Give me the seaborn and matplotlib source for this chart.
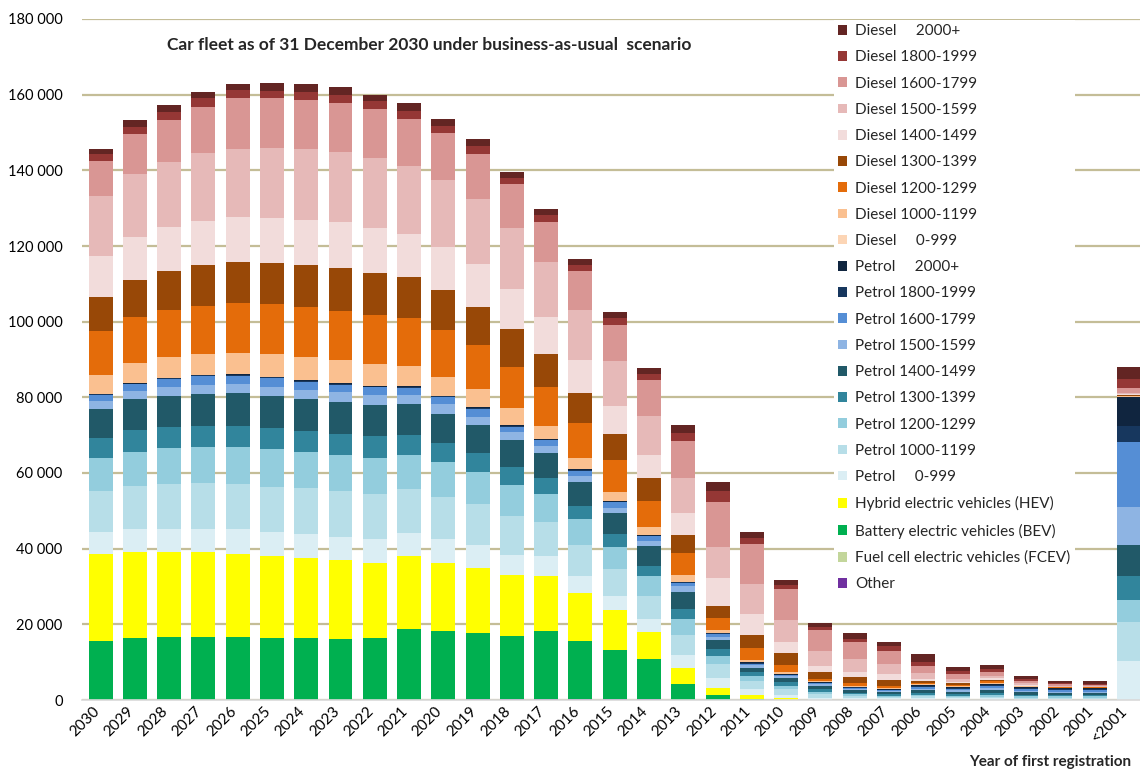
import numpy as np
import pandas as pd
import seaborn as sns
import matplotlib.pyplot as plt
from matplotlib.ticker import FuncFormatter
from matplotlib.transforms import ScaledTranslation

# Years of first registration (bars, left to right)
years = [str(y) for y in range(2030, 2000, -1)] + ["<2001"]

# Segment values per year, bottom of stack first
other = [0] * 11 + [200] * 6 + [0] * 14
fcev = [0] * 31
bev = [15700, 16460, 16660, 16660, 16660, 16460, 16460, 16070, 16460, 18820, 18330,
       17440, 16660, 18130, 15480, 12940, 10740, 4150, 1230, 350, 0,
       0, 0, 0, 0, 0, 0, 0, 0, 0, 0]
hev = [22800, 22540, 22540, 22340, 21850, 21560, 20980, 20880, 19800, 19110, 17930,
       17350, 16170, 14500, 12540, 10590, 7060, 4410, 2030, 880, 500,
       0, 0, 0, 0, 0, 0, 0, 0, 0, 0]
p0 = [5800, 6080, 6080, 6280, 6570, 6280, 6460, 6170, 6370, 6170, 6370,
      5970, 5190, 5100, 4610, 3790, 3350, 3260, 2650, 1770, 900,
      620, 530, 440, 530, 440, 440, 350, 350, 350, 10320]
p1000 = [10970, 11560, 11850, 12050, 12050, 12050, 12160, 12050, 11760, 11560, 11070,
         10780, 10290, 9110, 8130, 7230, 6180, 5380, 3700, 2030, 1500,
         880, 530, 350, 440, 350, 440, 260, 260, 260, 10410]
p1200 = [8800, 9020, 9410, 9600, 9710, 9900, 9600, 9510, 9700, 9020, 9310,
         8530, 8330, 7350, 6770, 5730, 5120, 4320, 1940, 1320, 880,
         700, 440, 350, 440, 350, 440, 350, 350, 350, 5640]
p1300 = [5100, 5680, 5490, 5590, 5480, 5680, 5490, 5680, 5590, 5390, 5000,
         5100, 4700, 4210, 3530, 3270, 2820, 2650, 1860, 1150, 880,
         620, 440, 350, 530, 440, 530, 440, 350, 350, 6440]
p1400 = [7640, 8140, 8330, 8330, 8730, 8430, 8330, 8330, 8230, 8040, 7650,
         7350, 7060, 6570, 6270, 5560, 5200, 4500, 2470, 1060, 1150,
         880, 700, 620, 700, 620, 880, 620, 530, 530, 8110]
p1500 = [2260, 2250, 2450, 2450, 2450, 2450, 2550, 2650, 2650, 2450, 2450,
         2150, 2160, 1960, 1760, 1500, 1410, 1500, 880, 610, 440,
         450, 350, 260, 350, 350, 350, 350, 350, 350, 9970]
p1600 = [1560, 1670, 1960, 2250, 2050, 2250, 2150, 1960, 2050, 1960, 2050,
         2060, 1470, 1470, 1270, 1410, 1150, 700, 620, 440, 260,
         260, 260, 260, 530, 440, 530, 440, 350, 350, 17200]
p1800 = [150, 200, 250, 250, 300, 250, 250, 250, 250, 250, 200,
         250, 250, 250, 250, 200, 200, 200, 200, 250, 200,
         150, 100, 100, 180, 180, 350, 350, 260, 260, 4410]
p2000 = [100, 100, 150, 150, 200, 150, 150, 150, 150, 150, 100,
         150, 150, 150, 150, 150, 150, 150, 150, 190, 150,
         110, 80, 80, 260, 260, 350, 350, 440, 440, 7670]
d0 = [0] * 31
d1000 = [5100, 5480, 5480, 5580, 5790, 5970, 5970, 6170, 5680, 5480, 5000,
         4800, 4500, 3530, 3040, 2480, 2030, 1770, 700, 440, 530,
         360, 260, 260, 180, 180, 180, 90, 50, 50, 150]
d1200 = [11450, 12120, 12450, 12740, 13030, 13140, 13230, 13030, 12940, 12540, 12340,
         11760, 10970, 10090, 9210, 8380, 6880, 5910, 3350, 3170, 1940,
         610, 700, 620, 440, 350, 440, 90, 50, 50, 150]
d1300 = [9030, 9700, 10400, 10680, 10780, 10870, 11080, 11270, 11270, 10780, 10690,
         10000, 9900, 8920, 7940, 6880, 6080, 4760, 3090, 3440, 3090,
         1860, 1680, 1500, 440, 530, 350, 100, 50, 50, 150]
d1400 = [10870, 11400, 11550, 11750, 12050, 11960, 12050, 12150, 11950, 11470, 11270,
         11270, 10580, 9610, 8720, 7500, 6260, 5640, 7500, 5730, 2910,
         1500, 1410, 1590, 620, 350, 530, 260, 90, 90, 200]
d1500 = [15880, 16560, 17050, 17850, 18040, 18600, 18620, 18430, 18520, 17930, 17730,
         17150, 16170, 14500, 13230, 11730, 10320, 9260, 7940, 7940, 5900,
         3970, 3260, 2650, 1410, 620, 620, 440, 260, 180, 300]
d1600 = [9320, 10740, 11300, 12250, 13270, 13000, 13170, 13150, 12730, 12580, 12450,
         11960, 11670, 10780, 10290, 9700, 9440, 9800, 11900, 10410, 8120,
         5550, 4670, 3530, 1940, 1500, 1060, 620, 440, 350, 1300]
d1800 = [1760, 1800, 2100, 2200, 2100, 2100, 2100, 2100, 2100, 2100, 1860,
         2050, 1570, 1760, 1570, 1680, 1590, 2200, 2920, 1760, 970,
         800, 800, 1320, 1150, 700, 700, 530, 350, 350, 2470]
d2000 = [1340, 1700, 1900, 1800, 1800, 2100, 2100, 1900, 1800, 2100, 1900,
         1870, 1670, 1670, 1670, 1680, 1590, 2210, 2550, 1590, 1410,
         1140, 1410, 1150, 1940, 1060, 1060, 700, 620, 530, 3000]

# Stack order (bottom to top), labels and colours
labels = ["Other", "Fuel cell electric vehicles (FCEV)", "Battery electric vehicles (BEV)",
          "Hybrid electric vehicles (HEV)",
          "Petrol     0-999", "Petrol 1000-1199", "Petrol 1200-1299", "Petrol 1300-1399",
          "Petrol 1400-1499", "Petrol 1500-1599", "Petrol 1600-1799", "Petrol 1800-1999",
          "Petrol     2000+",
          "Diesel     0-999", "Diesel 1000-1199", "Diesel 1200-1299", "Diesel 1300-1399",
          "Diesel 1400-1499", "Diesel 1500-1599", "Diesel 1600-1799", "Diesel 1800-1999",
          "Diesel     2000+"]
series = [other, fcev, bev, hev, p0, p1000, p1200, p1300, p1400, p1500, p1600, p1800,
          p2000, d0, d1000, d1200, d1300, d1400, d1500, d1600, d1800, d2000]
colors = ["#7030A0", "#C3D69B", "#00B050", "#FFFF00",
          "#DBEEF4", "#B7DEE8", "#93CDDD", "#31859C", "#215968", "#8EB4E3", "#558ED5",
          "#17375E", "#10253F",
          "#FCD5B5", "#FAC090", "#E46C0A", "#984807", "#F2DCDB", "#E6B9B8", "#D99694",
          "#953735", "#632523"]

df = pd.DataFrame(dict(zip(labels, series)), index=years)
cum = df.cumsum(axis=1)

sns.set_theme(style="white")
plt.rcParams["font.family"] = ["Lato", "DejaVu Sans"]

fig = plt.figure(figsize=(11.4, 7.72), dpi=100)
ax = fig.add_axes([82 / 1140, 72 / 772, 1 - 82 / 1140, 681 / 772])

# draw cumulative totals from the top layer down so each layer overlays the next
for name, col in zip(reversed(labels), reversed(colors)):
    sns.barplot(x=years, y=cum[name].values, color=col, saturation=1, width=0.7,
                label=name, ax=ax, linewidth=0)

ax.set_ylim(0, 180000)
ax.set_xlim(-0.54, 30.32)
ax.set_yticks(np.arange(0, 180001, 20000))
ax.yaxis.set_major_formatter(FuncFormatter(lambda v, p: f"{int(v):,}".replace(",", " ")))
ax.yaxis.grid(True, color="#C4BD97", linewidth=1.6)
ax.set_axisbelow(True)
for s in ["left", "right", "top"]:
    ax.spines[s].set_visible(False)
ax.spines["bottom"].set_color("#D9D9D9")
ax.spines["bottom"].set_linewidth(1.2)
ax.tick_params(axis="both", length=0, colors="#000000")
ax.tick_params(axis="x", pad=3, labelsize=11)
ax.tick_params(axis="y", pad=14, labelsize=10.5)
shift = ScaledTranslation(-6 / 72, 0, fig.dpi_scale_trans)
for lbl in ax.get_xticklabels():
    lbl.set_rotation(45)
    lbl.set_ha("right")
    lbl.set_rotation_mode("anchor")
    lbl.set_transform(lbl.get_transform() + shift)
ax.set_xlabel("")
ax.set_ylabel("")

leg = ax.legend(loc="upper left", bbox_to_anchor=(826 / 1140, 1 - 12 / 772),
                bbox_transform=fig.transFigure, fontsize=11, frameon=True,
                framealpha=1, facecolor="white", edgecolor="none", fancybox=False,
                handlelength=0.6, handleheight=0.6, handletextpad=0.5,
                labelspacing=0.8, borderpad=0.3)

fig.text(429 / 1140, 1 - 45 / 772,
         "Car fleet as of 31 December 2030 under business-as-usual  scenario",
         ha="center", va="center", fontsize=12.5, fontweight="bold")
fig.text(1131 / 1140, 3 / 772, "Year of first registration", ha="right", va="bottom",
         fontsize=11, fontweight="bold")

fig.savefig("out.png", dpi=100)
